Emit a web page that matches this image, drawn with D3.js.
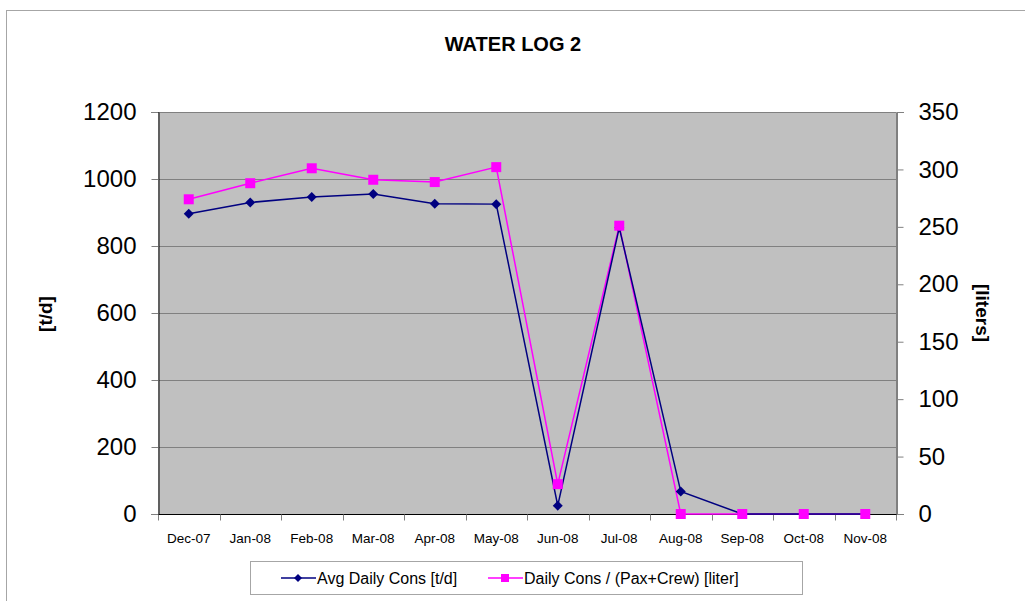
<!DOCTYPE html>
<html>
<head>
<meta charset="utf-8">
<script src="https://cdn.jsdelivr.net/npm/d3@7"></script>
<style>
  body { margin: 0; background: #fff; }
  svg { display: block; font-family: 'Liberation Sans', Arial, sans-serif; }
</style>
</head>
<body>
<svg id="chart" width="1025" height="601"></svg>
<script>
const months = ['Dec-07','Jan-08','Feb-08','Mar-08','Apr-08','May-08','Jun-08','Jul-08','Aug-08','Sep-08','Oct-08','Nov-08']
// Avg Daily Cons [t/d] (left axis)
const avgDaily = [896, 930, 946, 955, 926, 925, 25, 855, 67, 0, 0, 0]
// Daily Cons / (Pax+Crew) [liter] (right axis)
const perPerson = [274, 288, 301, 291, 289, 302, 26, 251, 0, 0, 0, 0]
const leftTicks = [0, 200, 400, 600, 800, 1000, 1200]
const rightTicks = [0, 50, 100, 150, 200, 250, 300, 350]

const svg = d3.select('#chart')
const plot = {left: 158, right: 896, top: 112, bottom: 514}

// outer chart border
svg.append('rect')
  .attr('x', 6.5).attr('y', 10.5)
  .attr('width', 1030).attr('height', 600)
  .attr('fill', 'none').attr('stroke', '#a6a6a6').attr('stroke-width', 1)

svg.append('text')
  .attr('x', 513).attr('y', 51)
  .attr('text-anchor', 'middle')
  .attr('font-size', 20).attr('font-weight', 'bold')
  .text('WATER LOG 2')

const x = d3.scaleBand()
  .domain(months)
  .range([plot.left, plot.right])

const yL = d3.scaleLinear().domain([0, 1200]).range([plot.bottom, plot.top])
const yR = d3.scaleLinear().domain([0, 350]).range([plot.bottom, plot.top])

// plot background
svg.append('rect')
  .attr('x', plot.left).attr('y', plot.top)
  .attr('width', plot.right - plot.left).attr('height', plot.bottom - plot.top)
  .attr('fill', '#c0c0c0')

// gridlines
svg.append('g')
  .selectAll('line')
  .data(leftTicks.slice(1))
  .join('line')
    .attr('x1', plot.left).attr('x2', plot.right)
    .attr('y1', d => Math.round(yL(d)) + 0.5).attr('y2', d => Math.round(yL(d)) + 0.5)
    .attr('stroke', '#808080')

// left axis
const gL = svg.append('g')
  .attr('transform', 'translate(' + (plot.left + 0.5) + ',0)')
  .call(d3.axisLeft(yL).tickValues(leftTicks).tickFormat(d3.format('d')).tickSize(7).tickPadding(15))
gL.select('.domain').attr('stroke', '#000')
gL.selectAll('.tick line').attr('stroke', '#808080')
gL.selectAll('.tick text').attr('font-size', 24).attr('font-family', 'Liberation Sans, Arial, sans-serif').attr('fill', '#000')

// right axis
const gR = svg.append('g')
  .attr('transform', 'translate(' + (plot.right + 0.5) + ',0)')
  .call(d3.axisRight(yR).tickValues(rightTicks).tickFormat(d3.format('d')).tickSize(7).tickPadding(15))
gR.select('.domain').attr('stroke', '#000')
gR.selectAll('.tick line').attr('stroke', '#808080')
gR.selectAll('.tick text').attr('font-size', 24).attr('font-family', 'Liberation Sans, Arial, sans-serif').attr('fill', '#000')

// bottom axis
const gB = svg.append('g')
  .attr('transform', 'translate(0,' + (plot.bottom + 0.5) + ')')
gB.append('line')
  .attr('x1', plot.left).attr('x2', plot.right + 1)
  .attr('stroke', '#000')
gB.selectAll('.sep')
  .data(d3.range(months.length + 1))
  .join('line')
    .attr('x1', i => Math.round(plot.left + i * x.step()) + 0.5)
    .attr('x2', i => Math.round(plot.left + i * x.step()) + 0.5)
    .attr('y1', 0).attr('y2', 6)
    .attr('stroke', '#808080')
gB.selectAll('text')
  .data(months)
  .join('text')
    .attr('x', d => x(d) + x.bandwidth() / 2)
    .attr('y', 28)
    .attr('text-anchor', 'middle')
    .attr('font-size', 13.5)
    .text(d => d)

// axis titles
svg.append('text')
  .attr('transform', 'translate(52,314) rotate(-90)')
  .attr('text-anchor', 'middle')
  .attr('font-size', 19).attr('font-weight', 'bold')
  .text('[t/d]')
svg.append('text')
  .attr('transform', 'translate(976,313) rotate(90)')
  .attr('text-anchor', 'middle')
  .attr('font-size', 19).attr('font-weight', 'bold')
  .text('[liters]')

const cx = d => x(d) + x.bandwidth() / 2

// pink series
svg.append('path')
  .datum(perPerson)
  .attr('fill', 'none').attr('stroke', '#ff00ff').attr('stroke-width', 1.5)
  .attr('d', d3.line().x((d, i) => cx(months[i])).y(d => yR(d)))

// blue series
svg.append('path')
  .datum(avgDaily)
  .attr('fill', 'none').attr('stroke', '#000080').attr('stroke-width', 1.5)
  .attr('d', d3.line().x((d, i) => cx(months[i])).y(d => yL(d)))

svg.append('g')
  .selectAll('path')
  .data(avgDaily)
  .join('path')
    .attr('transform', (d, i) => 'translate(' + cx(months[i]) + ',' + yL(d) + ')')
    .attr('d', 'M0,-5L5,0L0,5L-5,0Z')
    .attr('fill', '#000080')

svg.append('g')
  .selectAll('rect')
  .data(perPerson)
  .join('rect')
    .attr('x', (d, i) => cx(months[i]) - 5)
    .attr('y', d => yR(d) - 5)
    .attr('width', 10).attr('height', 10)
    .attr('fill', '#ff00ff')

// legend
const lg = svg.append('g')
lg.append('rect')
  .attr('x', 250.5).attr('y', 561.5)
  .attr('width', 552).attr('height', 33)
  .attr('fill', '#fff').attr('stroke', '#a6a6a6')
lg.append('line').attr('x1', 281).attr('x2', 316).attr('y1', 578).attr('y2', 578)
  .attr('stroke', '#000080').attr('stroke-width', 1.5)
lg.append('path').attr('transform', 'translate(298,578)')
  .attr('d', 'M0,-4L4,0L0,4L-4,0Z').attr('fill', '#000080')
lg.append('text').attr('x', 317).attr('y', 584).attr('font-size', 16)
  .text('Avg Daily Cons [t/d]')
lg.append('line').attr('x1', 488).attr('x2', 523).attr('y1', 578).attr('y2', 578)
  .attr('stroke', '#ff00ff').attr('stroke-width', 1.5)
lg.append('rect').attr('x', 501).attr('y', 574).attr('width', 8).attr('height', 8)
  .attr('fill', '#ff00ff')
lg.append('text').attr('x', 524).attr('y', 584).attr('font-size', 16)
  .text('Daily Cons / (Pax+Crew) [liter]')
</script>
</body>
</html>
